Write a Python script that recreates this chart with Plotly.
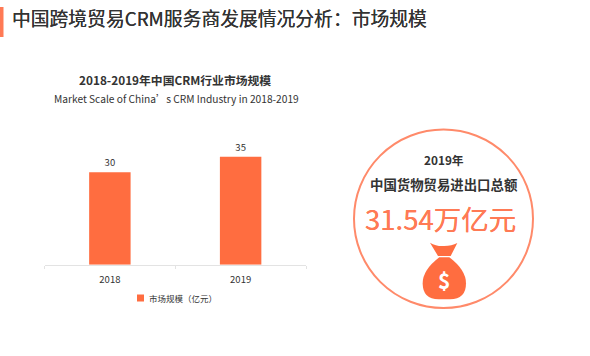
import plotly.graph_objects as go

W, H = 590, 356
categories = ["2018", "2019"]
values = [30, 35]
series_name = "市场规模（亿元）"
FONT = "Noto Sans CJK SC"
ORANGE = "#ff6d40"
DARK = "#333333"

def px(x): return x / W
def py(y): return 1 - y / H
def zx(x): return (340 + x / 3) / W
def zy(y): return 1 - (120 + y / 3) / H

def path(cmds):
    out = []
    for c in cmds:
        if isinstance(c, str):
            out.append(c)
        else:
            out.append(f"{zx(c[0]):.5f},{zy(c[1]):.5f}")
    return " ".join(out)

fig = go.Figure(go.Bar(
    x=categories, y=values, name=series_name, width=0.317,
    marker=dict(color=ORANGE, line=dict(width=0)),
    text=[str(v) for v in values], textposition="outside", cliponaxis=False,
    textfont=dict(size=9.5, color=DARK, family=FONT),
    showlegend=False,
))

def note(text, x, y, size, color=DARK, weight=400, anchor="center", shadow="none"):
    fig.add_annotation(text=text, x=px(x), y=py(y), xref="paper", yref="paper", showarrow=False,
                       xanchor=anchor, yanchor="middle",
                       font=dict(size=size, color=color, family=FONT, weight=weight, shadow=shadow))

note("中国跨境贸易CRM服务商发展情况分析：市场规模", 9.5, 17.5, 18.8, anchor="left",
     shadow=f"0 0 0.6px {DARK}")
note("2018-2019年中国CRM行业市场规模", 175.5, 79, 11.8, weight=700)
note("Market Scale of China’s CRM Industry in 2018-2019", 176, 99, 10.2)
note("2019年", 443.5, 159.5, 11.8, weight=700)
note("中国货物贸易进出口总额", 443.5, 184, 13.4, weight=700)
note("31.54万亿元", 440.5, 217.5, 27.5, color="#ff7a55", shadow="0 0 0.6px #ff7a55")
note("$", 444, 280, 21, color="#ffffff", weight=700)
note(series_name, 147, 297.5, 8.5, anchor="left")

shapes = [
    dict(type="rect", xref="paper", yref="paper", x0=0, x1=px(3.5), y0=py(37), y1=py(7),
         fillcolor="#ff7a55", line_width=0, layer="below"),
    dict(type="circle", xref="paper", yref="paper", x0=px(354), x1=px(533), y0=py(308), y1=py(129.5),
         line=dict(color="#ff8a6a", width=2), fillcolor="rgba(0,0,0,0)", layer="below"),
    dict(type="path", xref="paper", yref="paper", fillcolor=ORANGE, line_width=0, layer="below",
         path=path(["M", (270, 368), "Q", (290, 380), (313, 378), "Q", (335, 378), (352, 369),
                    "L", (332, 408), "L", (294, 408), "Z"])),
    dict(type="path", xref="paper", yref="paper", fillcolor=ORANGE, line_width=0, layer="below",
         path=path(["M", (298, 412), "L", (328, 412), "Q", (378, 450), (378, 490),
                    "Q", (378, 538), (330, 538), "L", (296, 538),
                    "Q", (248, 538), (248, 490), "Q", (248, 450), (298, 412), "Z"])),
    dict(type="rect", xref="paper", yref="paper", x0=px(137), x1=px(144), y0=py(301.5), y1=py(294.5),
         fillcolor=ORANGE, line_width=0, layer="below"),
]
fig.update_layout(
    width=W, height=H, margin=dict(l=0, r=0, t=0, b=0), autosize=False,
    paper_bgcolor="#ffffff", plot_bgcolor="#ffffff", shapes=shapes,
    font=dict(family=FONT, color=DARK), showlegend=False,
    xaxis=dict(domain=[px(44.5), px(306)], range=[-0.5, 1.5], type="category",
               tickson="boundaries", ticks="outside", ticklen=3, tickcolor="#e3e3e3",
               showline=True, linecolor="#e3e3e3", linewidth=1, showgrid=False,
               ticklabelstandoff=6,
               tickfont=dict(size=9.5, color=DARK, family=FONT)),
    yaxis=dict(domain=[py(264.7), py(141.3)], range=[0, 40], visible=False),
)
fig.write_html("out.html", config={"displayModeBar": False},
               post_script="document.body.style.margin='0';")
